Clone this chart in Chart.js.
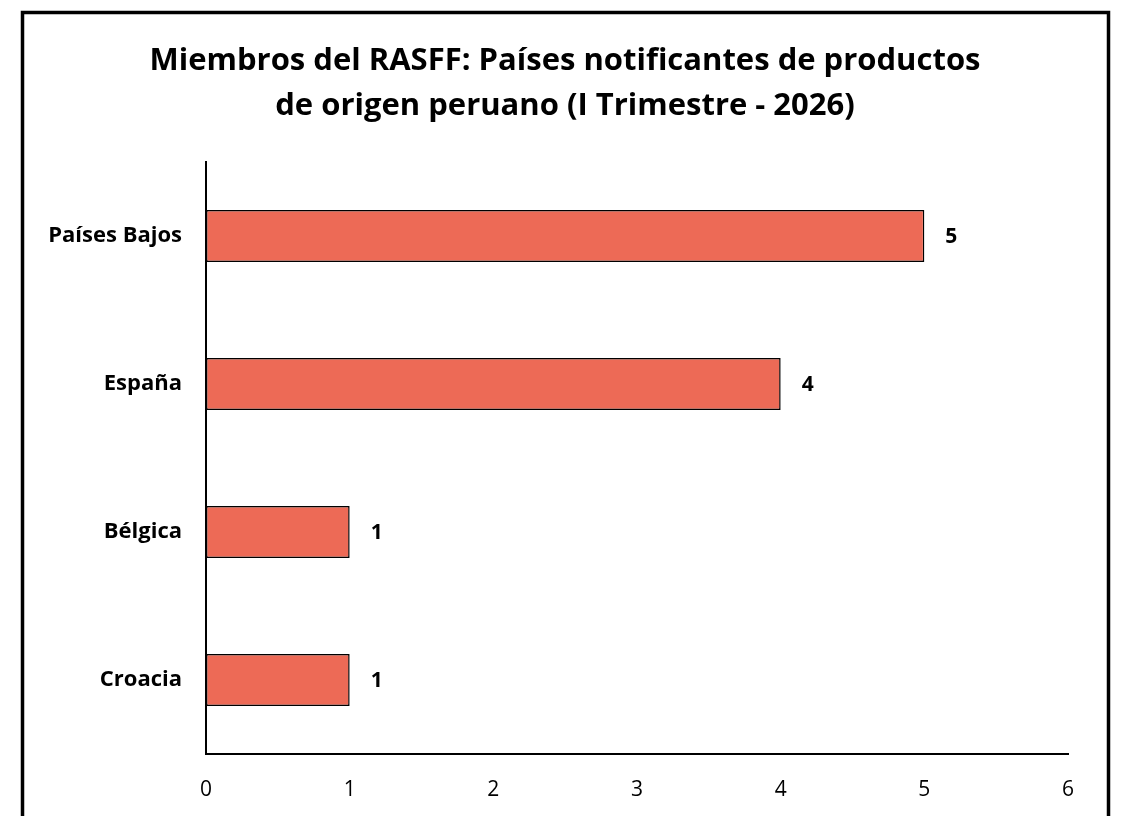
<!DOCTYPE html>
<html>
<head>
<meta charset="utf-8">
<script src="https://cdn.jsdelivr.net/npm/chart.js@4"></script>
<style>
  html, body { margin: 0; padding: 0; background: #fff; }
  canvas { display: block; }
</style>
</head>
<body>
<canvas id="chart" width="1122" height="816"></canvas>
<script>
const categories = ['Países Bajos', 'España', 'Bélgica', 'Croacia'];
const notifications = [5, 4, 1, 1];
const xTicks = [0, 1, 2, 3, 4, 5, 6];
const titleLines = ['Miembros del RASFF: Países notificantes de productos',
                    'de origen peruano (I Trimestre - 2026)'];

const fontFamily = '"Open Sans", Lato, sans-serif';
const barColor = '#ED6A56';

// frame around the whole picture + the title (centred off the plot, like the original)
const framePlugin = {
    id: 'frame',
    afterDraw(chart) {
        const ctx = chart.ctx;
        ctx.save();
        ctx.strokeStyle = '#000';
        ctx.lineWidth = 3.5;
        ctx.strokeRect(22.5, 12.5, 1086, 900);

        ctx.font = 'bold 31px ' + fontFamily;
        ctx.fillStyle = '#000';
        ctx.textAlign = 'center';
        ctx.textBaseline = 'middle';
        titleLines.forEach((line, i) => {
            ctx.fillText(line, 565, 61 + i * 45);
        });
        ctx.restore();
    }
};

// value next to the end of each bar
const valueLabels = {
    id: 'valueLabels',
    afterDatasetsDraw(chart) {
        const ctx = chart.ctx;
        const meta = chart.getDatasetMeta(0);
        ctx.save();
        ctx.font = 'bold 21px ' + fontFamily;
        ctx.fillStyle = '#000';
        ctx.textAlign = 'left';
        ctx.textBaseline = 'middle';
        meta.data.forEach((bar, i) => {
            ctx.fillText(String(notifications[i]), bar.x + 21, bar.y + 1);
        });
        ctx.restore();
    }
};

const ctx = document.getElementById('chart').getContext('2d');

new Chart(ctx, {
    type: 'bar',
    data: {
        labels: categories,
        datasets: [{
            data: notifications,
            backgroundColor: barColor,
            borderColor: '#000',
            borderWidth: 1.5,
            borderSkipped: false,
            categoryPercentage: 0.7,
            barPercentage: 0.5,
        }]
    },
    options: {
        indexAxis: 'y',
        responsive: false,
        animation: false,
        layout: {
            padding: { left: 0, right: 54, top: 162, bottom: 0 }
        },
        plugins: {
            legend: { display: false },
            tooltip: { enabled: false },
            title: { display: false }
        },
        scales: {
            x: {
                min: 0,
                max: 6,
                afterBuildTicks(scale) {
                    scale.ticks = xTicks.map(v => ({ value: v }));
                },
                afterFit(scale) {
                    scale.height = 62;
                },
                grid: { display: false, drawTicks: false },
                border: { display: true, color: '#000', width: 2 },
                ticks: {
                    color: '#000',
                    padding: 23,
                    font: { family: fontFamily, size: 21 }
                }
            },
            y: {
                afterFit(scale) {
                    scale.width = 206;
                },
                grid: { display: false, drawTicks: false },
                border: { display: true, color: '#000', width: 2 },
                ticks: {
                    color: '#000',
                    padding: 24,
                    font: { family: fontFamily, size: 22, weight: 'bold' }
                }
            }
        }
    },
    plugins: [framePlugin, valueLabels]
});
</script>
</body>
</html>
